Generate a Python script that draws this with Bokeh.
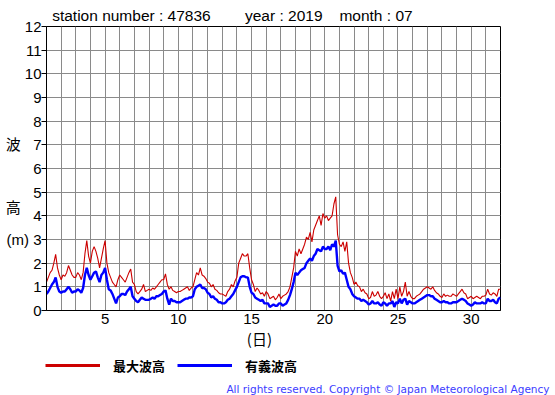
from bokeh.plotting import figure
from bokeh.layouts import column
from bokeh.models import FixedTicker, Legend, LegendItem, Range1d, LinearAxis, Label
from bokeh.embed import file_html
from bokeh.resources import INLINE

# ---- data: 3-hourly wave heights (m), July 2019, station 47836 ----
max_wave_by_day = [
    [1.2, 1.4, 1.6, 1.7, 2.0, 2.37, 1.8, 1.5],   # 1
    [1.3, 1.5, 1.45, 1.6, 1.9, 1.7, 1.5, 1.4],   # 2
    [1.4, 1.6, 1.5, 1.3, 1.6, 2.4, 2.95, 2.3],   # 3
    [2.0, 2.5, 2.7, 2.5, 2.2, 1.8, 2.2, 2.6],    # 4
    [2.95, 2.0, 1.6, 1.4, 1.2, 1.1, 1.0, 1.3],   # 5
    [1.5, 1.4, 1.3, 1.2, 1.4, 1.6, 1.75, 1.2],   # 6
    [1.1, 0.8, 0.7, 0.8, 0.9, 1.1, 0.8, 0.85],   # 7
    [0.9, 0.85, 0.95, 0.9, 1.0, 1.1, 1.2, 1.3],  # 8
    [1.3, 1.55, 1.1, 0.9, 1.0, 0.85, 0.8, 0.75], # 9
    [0.8, 0.8, 0.85, 0.9, 0.95, 1.0, 0.85, 0.95],# 10
    [1.0, 1.3, 1.6, 1.5, 1.8, 1.5, 1.45, 1.35],  # 11
    [1.2, 1.15, 1.0, 1.1, 0.9, 0.85, 0.75, 0.7], # 12
    [0.7, 0.65, 0.6, 0.8, 0.9, 1.1, 1.0, 1.25],  # 13
    [1.4, 2.0, 2.2, 2.4, 2.3, 2.3, 2.4, 1.8],    # 14
    [1.3, 1.1, 0.8, 0.95, 0.85, 0.7, 0.75, 0.6], # 15
    [0.8, 0.7, 0.5, 0.55, 0.6, 0.45, 0.55, 0.7], # 16
    [0.5, 0.6, 0.65, 0.7, 0.8, 1.0, 1.4, 1.8],   # 17
    [2.5, 2.3, 2.6, 2.4, 2.6, 2.8, 3.1, 3.0],    # 18
    [3.3, 2.9, 3.4, 3.6, 3.8, 4.0, 3.6, 4.1],    # 19
    [3.9, 4.0, 3.8, 3.9, 4.0, 4.5, 4.8, 3.2],    # 20
    [2.8, 2.7, 2.9, 2.5, 2.9, 2.0, 1.6, 1.4],    # 21
    [1.1, 1.2, 1.05, 1.0, 0.8, 0.9, 0.75, 0.7],  # 22
    [0.5, 0.55, 0.8, 0.6, 0.65, 0.8, 0.6, 0.5],  # 23
    [0.6, 0.75, 0.5, 0.7, 0.4, 0.8, 0.5, 0.9],   # 24
    [0.5, 1.0, 0.6, 0.8, 1.2, 0.6, 0.8, 0.6],    # 25
    [0.5, 0.5, 0.6, 0.65, 0.7, 0.8, 0.9, 0.95],  # 26
    [1.0, 0.95, 0.9, 1.0, 0.85, 0.75, 0.7, 0.6], # 27
    [0.55, 0.7, 0.6, 0.65, 0.6, 0.6, 0.7, 0.65], # 28
    [0.6, 0.7, 0.8, 0.9, 0.75, 0.7, 0.5, 0.55],  # 29
    [0.6, 0.5, 0.55, 0.6, 0.55, 0.5, 0.6, 0.6],  # 30
    [0.65, 0.9, 0.7, 0.65, 0.75, 0.7, 0.6, 0.9], # 31
]
max_wave_end = 0.9

sig_wave_by_day = [
    [0.7, 0.8, 0.95, 1.1, 1.2, 1.4, 1.0, 0.8],
    [0.75, 0.8, 0.8, 0.9, 1.0, 0.9, 0.75, 0.8],
    [0.8, 0.9, 0.85, 0.75, 0.95, 1.5, 1.8, 1.5],
    [1.3, 1.45, 1.6, 1.65, 1.4, 1.2, 1.5, 1.6],
    [1.8, 1.3, 0.9, 0.85, 0.7, 0.5, 0.3, 0.55],
    [0.6, 0.7, 0.7, 0.65, 0.8, 0.9, 1.0, 0.6],
    [0.5, 0.4, 0.35, 0.45, 0.55, 0.5, 0.45, 0.45],
    [0.45, 0.5, 0.55, 0.5, 0.6, 0.6, 0.65, 0.7],
    [0.8, 0.85, 0.5, 0.25, 0.5, 0.4, 0.4, 0.35],
    [0.35, 0.35, 0.4, 0.45, 0.5, 0.5, 0.55, 0.55],
    [0.6, 0.9, 1.0, 1.05, 1.1, 0.95, 0.95, 0.9],
    [0.75, 0.7, 0.55, 0.6, 0.5, 0.45, 0.35, 0.35],
    [0.3, 0.3, 0.35, 0.45, 0.5, 0.6, 0.7, 0.85],
    [1.0, 1.2, 1.4, 1.45, 1.45, 1.4, 1.4, 1.0],
    [0.75, 0.7, 0.55, 0.5, 0.45, 0.4, 0.45, 0.3],
    [0.3, 0.3, 0.15, 0.2, 0.25, 0.2, 0.2, 0.3],
    [0.3, 0.2, 0.25, 0.3, 0.45, 0.65, 0.9, 1.2],
    [1.6, 1.5, 1.6, 1.7, 1.75, 1.8, 2.0, 2.1],
    [2.2, 2.1, 2.3, 2.4, 2.6, 2.55, 2.5, 2.7],
    [2.6, 2.6, 2.7, 2.55, 2.8, 2.7, 2.95, 1.9],
    [1.65, 1.7, 1.55, 1.6, 1.3, 1.0, 0.9, 0.7],
    [0.6, 0.55, 0.5, 0.5, 0.4, 0.45, 0.4, 0.35],
    [0.25, 0.3, 0.4, 0.3, 0.3, 0.35, 0.25, 0.2],
    [0.35, 0.3, 0.2, 0.3, 0.3, 0.4, 0.15, 0.35],
    [0.3, 0.5, 0.3, 0.45, 0.5, 0.25, 0.4, 0.35],
    [0.3, 0.3, 0.35, 0.4, 0.45, 0.5, 0.55, 0.6],
    [0.65, 0.65, 0.6, 0.6, 0.5, 0.45, 0.4, 0.35],
    [0.35, 0.4, 0.35, 0.35, 0.3, 0.3, 0.35, 0.35],
    [0.35, 0.4, 0.45, 0.5, 0.45, 0.4, 0.3, 0.25],
    [0.2, 0.25, 0.35, 0.3, 0.3, 0.3, 0.35, 0.3],
    [0.3, 0.5, 0.4, 0.4, 0.45, 0.35, 0.3, 0.5],
]
sig_wave_end = 0.55

samples_per_day = 8
x_ticks = [5, 10, 15, 20, 25, 30]
y_ticks = list(range(0, 13))
day_grid = list(range(1, 33))

title_texts = ["station number : 47836", "year : 2019", "month : 07"]
title_anchor_days = [6.8, 17.2, 23.5]
y_label_chars = {7: "波", 3: "(m)"}
y_label_mid = (4.36, "高")
x_label_text = "(日)"
x_label_anchor_day = 15.54
legend_labels = ["最大波高", "有義波高"]
copyright_text = "All rights reserved. Copyright © Japan Meteorological Agency"

max_wave = [v for d in max_wave_by_day for v in d] + [max_wave_end]
sig_wave = [v for d in sig_wave_by_day for v in d] + [sig_wave_end]
times = [1 + i / samples_per_day for i in range(len(max_wave))]

RED = "#cc0000"
BLUE = "#0000ff"
NUM_FONT = "Liberation Sans"
MIX_FONT = "'Liberation Sans', 'Noto Sans CJK JP'"
JP_FONT = "Noto Sans CJK JP"
NB = "\u00a0"

# ---------------- main chart ----------------
p = figure(width=555, height=355, output_backend="svg", toolbar_location=None,
           title=None, x_range=Range1d(1, 32), y_range=Range1d(0, 12),
           min_border_left=46, min_border_right=55, min_border_top=26,
           min_border_bottom=45)
p.background_fill_color = "white"
p.border_fill_color = "white"
p.outline_line_color = "black"
p.outline_line_alpha = 1.0
p.outline_line_width = 1

p.xgrid.ticker = FixedTicker(ticks=day_grid)
p.ygrid.ticker = FixedTicker(ticks=y_ticks)
for g in (p.xgrid, p.ygrid):
    g.grid_line_color = "#8a8a8a"
    g.grid_line_width = 1
    g.grid_line_alpha = 1.0

# x axis
p.xaxis.ticker = FixedTicker(ticks=x_ticks)
p.xaxis.major_tick_out = 0
p.xaxis.major_tick_in = 0
p.xaxis.minor_tick_out = 0
p.xaxis.minor_tick_in = 0
p.xaxis.major_label_standoff = 3
p.xaxis.axis_line_color = "black"
p.xaxis.major_label_text_font = NUM_FONT
p.xaxis.major_label_text_font_size = "15px"
p.xaxis.major_label_text_color = "black"

# y axis: tick marks only (labels on the next axis)
p.yaxis.ticker = FixedTicker(ticks=y_ticks)
p.yaxis.major_tick_out = 5
p.yaxis.major_tick_in = 0
p.yaxis.minor_tick_out = 0
p.yaxis.minor_tick_in = 0
p.yaxis.major_label_standoff = 1
p.yaxis.axis_line_color = "black"
p.yaxis.major_tick_line_color = "black"
p.yaxis.major_label_overrides = {t: "" for t in y_ticks}
p.yaxis.major_label_text_font_size = "0px"


def text_axis(ticks, labels, side, font, size, standoff, color="black", style="normal"):
    ax = LinearAxis(ticker=FixedTicker(ticks=ticks),
                    major_label_overrides=labels,
                    axis_line_color=None, major_tick_line_color=None,
                    minor_tick_line_color=None, major_tick_out=0, major_tick_in=0,
                    minor_tick_out=0, minor_tick_in=0,
                    major_label_standoff=standoff,
                    major_label_text_font=font, major_label_text_font_size=size,
                    major_label_text_color=color,
                    major_label_text_font_style=style)
    p.add_layout(ax, side)
    return ax


# y tick labels together with the stacked 波 / 高 / (m) label
y_labels = {t: str(t) for t in y_ticks}
y_labels[7] = y_label_chars[7] + NB * 3 + "7"
y_labels[3] = y_label_chars[3] + NB + "3"
y_labels[y_label_mid[0]] = y_label_mid[1] + NB * 5
text_axis(y_ticks + [y_label_mid[0]], y_labels, "left", MIX_FONT, "15px", 0)

p.line(times, sig_wave, line_color=BLUE, line_width=2.4)
p.line(times, max_wave, line_color=RED, line_width=1.1)

text_axis(title_anchor_days, dict(zip(title_anchor_days, title_texts)), "above",
          NUM_FONT, "15.5px", 3)
text_axis([x_label_anchor_day], {x_label_anchor_day: x_label_text}, "below",
          JP_FONT, "15px", 1)

# ---------------- legend + copyright strip ----------------
q = figure(width=555, height=40, output_backend="svg", toolbar_location=None,
           title=None, x_range=Range1d(0, 555), y_range=Range1d(0, 40),
           x_axis_location=None, y_axis_location=None, min_border=0)
q.grid.visible = False
q.outline_line_color = None
q.background_fill_color = "white"
q.border_fill_color = "white"
for fig in (p, q):
    if "frame_align" in fig.properties():
        fig.frame_align = False

nan = float("nan")
r_leg = q.line(x=[nan], y=[nan], line_color=RED, line_width=3)
b_leg = q.line(x=[nan], y=[nan], line_color=BLUE, line_width=3)
legend = Legend(items=[LegendItem(label=legend_labels[0], renderers=[r_leg]),
                       LegendItem(label=legend_labels[1], renderers=[b_leg])],
                location=(45, 20), orientation="horizontal",
                glyph_width=55, glyph_height=20, label_height=20,
                label_standoff=13, spacing=12, padding=0, margin=0,
                border_line_alpha=0, background_fill_alpha=0,
                label_text_font=JP_FONT, label_text_font_size="13px",
                label_text_font_style="bold", label_text_color="black")
q.add_layout(legend, "center")

q.add_layout(Label(x=549, y=7, x_units="screen", y_units="screen", text=copyright_text,
                   text_font="DejaVu Sans", text_font_size="10.5px", text_color="#3c3cff",
                   text_align="right", text_baseline="alphabetic"))

layout = column(p, q, spacing=0)
open("out.html", "w").write(file_html(layout, INLINE))
